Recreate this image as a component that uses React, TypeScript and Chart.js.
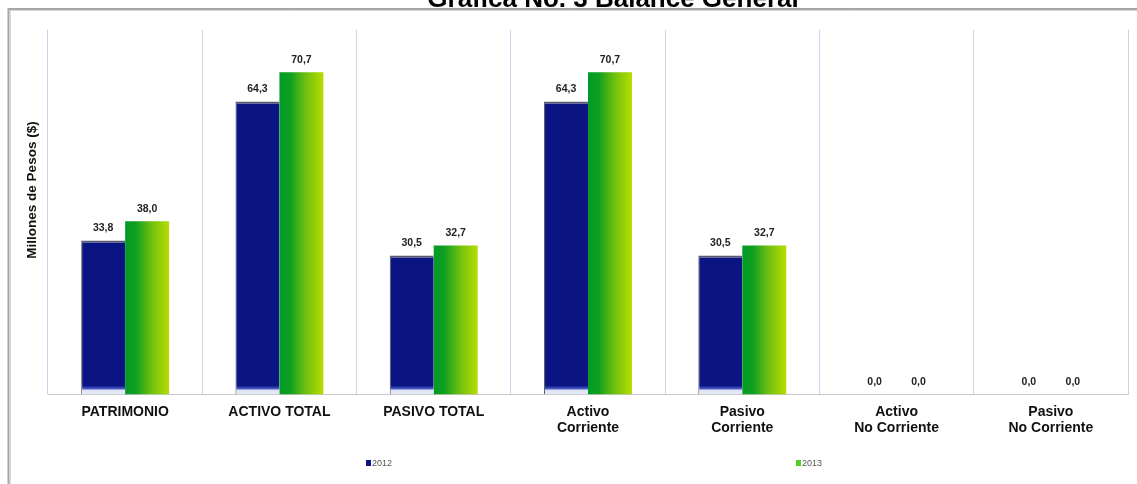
import React, { useEffect, useRef } from "react";
import { Chart, registerables } from "chart.js";

Chart.register(...registerables);

const categories: (string | string[])[] = [
  "PATRIMONIO",
  "ACTIVO TOTAL",
  "PASIVO TOTAL",
  ["Activo", "Corriente"],
  ["Pasivo", "Corriente"],
  ["Activo", "No Corriente"],
  ["Pasivo", "No Corriente"],
];
const values2012: number[] = [33.8, 64.3, 30.5, 64.3, 30.5, 0.0, 0.0];
const values2013: number[] = [38.0, 70.7, 32.7, 70.7, 32.7, 0.0, 0.0];
const seriesNames: string[] = ["2012", "2013"];
const titleText = "Grafica No. 3 Balance General";
const yTitle = "Millones de Pesos ($)";

const FONT = "'Liberation Sans', Arial, sans-serif";
const CAT_PCT = 0.57;

const fmt = (v: number) => v.toFixed(1).replace(".", ",");

export default function App() {
  const ref = useRef<HTMLCanvasElement | null>(null);

  useEffect(() => {
    if (!ref.current) return;

    const blueBg = (ctx: any) => {
      const chart = ctx.chart;
      const ys = chart.scales?.y;
      if (!ys || !chart.chartArea) return "#0a1482";
      const v = ctx.raw as number;
      const top = ys.getPixelForValue(v);
      const bottom = ys.getPixelForValue(0);
      if (bottom - top < 2) return "#0a1482";
      const g = chart.ctx.createLinearGradient(0, top, 0, bottom);
      const h = bottom - top;
      g.addColorStop(0, "#5060a8");
      g.addColorStop(Math.min(0.5, 3 / h), "#0a1482");
      g.addColorStop(Math.max(0.5, 1 - 9 / h), "#0a1482");
      g.addColorStop(Math.max(0.5, 1 - 6 / h), "#4050c0");
      g.addColorStop(Math.max(0.5, 1 - 4 / h), "#dfe4f6");
      g.addColorStop(1, "#e8ecf8");
      return g;
    };

    const greenBg = (ctx: any) => {
      const chart = ctx.chart;
      const xs = chart.scales?.x;
      if (!xs || !chart.chartArea) return "#50b818";
      const cw = xs.width / categories.length;
      const left = xs.getPixelForValue(ctx.dataIndex);
      const right = left + (cw * CAT_PCT) / 2;
      const g = chart.ctx.createLinearGradient(left, 0, right, 0);
      g.addColorStop(0, "#009a28");
      g.addColorStop(0.25, "#10a020");
      g.addColorStop(0.6, "#70c010");
      g.addColorStop(1, "#b8dc00");
      return g;
    };

    const decor = {
      id: "decor",
      beforeDraw(chart: any) {
        const c = chart.ctx;
        c.save();
        c.fillStyle = "#ffffff";
        c.fillRect(0, 0, chart.width, chart.height);
        // frame
        c.strokeStyle = "#a6a6a6";
        c.lineWidth = 2;
        c.beginPath();
        c.moveTo(8.5, chart.height);
        c.lineTo(8.5, 9);
        c.lineTo(chart.width, 9);
        c.stroke();
        c.strokeStyle = "#d8d8d8";
        c.lineWidth = 1;
        c.beginPath();
        c.moveTo(10.5, chart.height);
        c.lineTo(10.5, 10.5);
        c.lineTo(chart.width, 10.5);
        c.stroke();
        // title (cut at top)
        c.fillStyle = "#000000";
        c.font = `bold 26px ${FONT}`;
        c.textAlign = "center";
        c.textBaseline = "alphabetic";
        c.fillText(titleText, 613, 7);
        // y title
        c.save();
        c.translate(32, 190);
        c.rotate(-Math.PI / 2);
        c.font = `bold 13.5px ${FONT}`;
        c.textAlign = "center";
        c.textBaseline = "middle";
        c.fillStyle = "#111111";
        c.fillText(yTitle, 0, 0);
        c.restore();
        c.restore();
      },
      afterDatasetsDraw(chart: any) {
        const c = chart.ctx;
        c.save();
        c.font = `bold 10.5px ${FONT}`;
        c.fillStyle = "#222222";
        c.textAlign = "center";
        c.textBaseline = "bottom";
        chart.data.datasets.forEach((ds: any, di: number) => {
          const meta = chart.getDatasetMeta(di);
          meta.data.forEach((el: any, i: number) => {
            const v = ds.data[i] as number;
            c.fillText(fmt(v), el.x, el.y - 7);
          });
        });
        // legend
        c.font = `9px ${FONT}`;
        c.textBaseline = "middle";
        c.textAlign = "left";
        const items = [
          { x: 366, color: "#0a1482", label: seriesNames[0] },
          { x: 796, color: "#50d020", label: seriesNames[1] },
        ];
        items.forEach((it) => {
          c.fillStyle = it.color;
          c.fillRect(it.x, 460, 5, 6);
          c.fillStyle = "#555555";
          c.fillText(it.label, it.x + 6, 463.5);
        });
        c.restore();
      },
    };

    const chart = new Chart(ref.current, {
      type: "bar",
      data: {
        labels: categories,
        datasets: [
          {
            label: seriesNames[0],
            data: values2012,
            backgroundColor: blueBg,
            borderColor: "#5a5a6a",
            borderWidth: { top: 2, left: 1, right: 0, bottom: 0 },
            borderSkipped: false,
            barPercentage: 1,
            categoryPercentage: CAT_PCT,
          },
          {
            label: seriesNames[1],
            data: values2013,
            backgroundColor: greenBg,
            borderWidth: 0,
            barPercentage: 1,
            categoryPercentage: CAT_PCT,
          },
        ],
      },
      options: {
        animation: false,
        responsive: true,
        maintainAspectRatio: false,
        layout: { padding: { left: 48, right: 9, top: 30, bottom: 38 } },
        plugins: {
          legend: { display: false },
          tooltip: { enabled: false },
          title: { display: false },
        },
        scales: {
          x: {
            grid: {
              display: true,
              offset: true,
              color: "#c6d6ea",
              drawTicks: false,
              lineWidth: 1,
            },
            border: { display: true, color: "#c8c8c8", width: 1 },
            ticks: {
              color: "#111111",
              font: { family: FONT, size: 14, weight: "bold", lineHeight: 1.2 },
              padding: 9,
              maxRotation: 0,
              autoSkip: false,
            },
          },
          y: {
            display: false,
            min: 0,
            max: 80,
          },
        },
      },
      plugins: [decor],
    });

    return () => chart.destroy();
  }, []);

  return (
    <div style={{ position: "absolute", left: 0, top: 0, width: 1137, height: 484 }}>
      <canvas ref={ref} />
    </div>
  );
}
